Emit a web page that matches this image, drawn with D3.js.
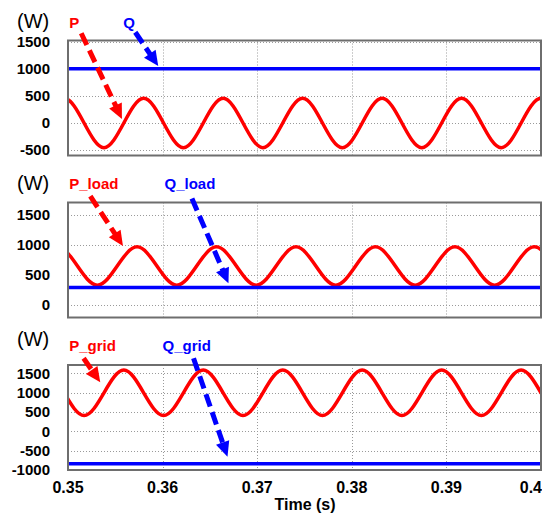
<!DOCTYPE html>
<html>
<head>
<meta charset="utf-8">
<script src="https://cdn.jsdelivr.net/npm/d3@7"></script>
<style>
  body { margin: 0; background: #fff; }
  svg { display: block; font-family: "Liberation Sans", Arial, sans-serif; }
</style>
</head>
<body>
<svg id="chart" width="542" height="515"></svg>
<script>
// time axis
var timeTicks = [0.35, 0.36, 0.37, 0.38, 0.39, 0.40];
var timeLabels = ['0.35', '0.36', '0.37', '0.38', '0.39', '0.4'];

// panel 1 : P and Q
var pTime = [0.3475, 0.3496, 0.3517, 0.3538, 0.3559, 0.3580, 0.3601, 0.3622, 0.3643, 0.3664, 0.3685, 0.3706, 0.3727,
             0.3748, 0.3769, 0.3790, 0.3811, 0.3832, 0.3853, 0.3874, 0.3895, 0.3916, 0.3937, 0.3958, 0.3979, 0.4000, 0.4021];
var pVal  = [0, 455, 0, -455, 0, 455, 0, -455, 0, 455, 0, -455, 0,
             455, 0, -455, 0, 455, 0, -455, 0, 455, 0, -455, 0, 455, 0];
var qTime = [0.35, 0.40];
var qVal  = [1000, 1000];
var ticks1 = [-500, 0, 500, 1000, 1500];

// panel 2 : P_load and Q_load
var pLoadTime = [0.3468, 0.3489, 0.3510, 0.3531, 0.3552, 0.3573, 0.3594, 0.3615, 0.3636, 0.3657, 0.3678, 0.3699, 0.3720,
                 0.3741, 0.3762, 0.3783, 0.3804, 0.3825, 0.3846, 0.3867, 0.3888, 0.3909, 0.3930, 0.3951, 0.3972, 0.3993, 0.4014];
var pLoadVal  = [649, 970, 649, 328, 649, 970, 649, 328, 649, 970, 649, 328, 649,
                 970, 649, 328, 649, 970, 649, 328, 649, 970, 649, 328, 649, 970, 649];
var qLoadTime = [0.35, 0.40];
var qLoadVal  = [290, 290];
var ticks2 = [0, 500, 1000, 1500];

// panel 3 : P_grid and Q_grid
var pGridTime = [0.3454, 0.3475, 0.3496, 0.3517, 0.3538, 0.3559, 0.3580, 0.3601, 0.3622, 0.3643, 0.3664, 0.3685, 0.3706, 0.3727,
                 0.3748, 0.3769, 0.3790, 0.3811, 0.3832, 0.3853, 0.3874, 0.3895, 0.3916, 0.3937, 0.3958, 0.3979, 0.4000, 0.4021, 0.4042];
var pGridVal  = [992, 1580, 992, 405, 992, 1580, 992, 405, 992, 1580, 992, 405, 992, 1580,
                 992, 405, 992, 1580, 992, 405, 992, 1580, 992, 405, 992, 1580, 992, 405, 992];
var qGridTime = [0.35, 0.40];
var qGridVal  = [-840, -840];
var ticks3 = [-1000, -500, 0, 500, 1000, 1500];

var red = '#ff0000', blue = '#0000ff';

var panels = [
    {top: 40.5, bottom: 155.5, domain: [-600, 1520], ticks: ticks1, unitY: 28,
     p: [pTime, pVal], q: [qTime, qVal],
     labels: [{text: 'P', t: 0.35013, y: 28, color: red}, {text: 'Q', t: 0.35585, y: 28, color: blue}],
     arrows: [{from: [0.35140, 1654], to: [0.35570, 74], color: red},
              {from: [0.35711, 1672], to: [0.35954, 1048], color: blue}]},
    {top: 202.5, bottom: 317.5, domain: [-210, 1710], ticks: ticks2, unitY: 190,
     p: [pLoadTime, pLoadVal], q: [qLoadTime, qLoadVal],
     labels: [{text: 'P_load', t: 0.35013, y: 189, color: red}, {text: 'Q_load', t: 0.36020, y: 189, color: blue}],
     arrows: [{from: [0.35236, 1815], to: [0.35581, 983], color: red},
              {from: [0.36310, 1777], to: [0.36696, 362], color: blue}]},
    {top: 365, bottom: 470, domain: [-1000, 1710], ticks: ticks3, unitY: 346,
     p: [pGridTime, pGridVal], q: [qGridTime, qGridVal],
     labels: [{text: 'P_grid', t: 0.35013, y: 351, color: red}, {text: 'Q_grid', t: 0.36000, y: 351, color: blue}],
     arrows: [{from: [0.35165, 1883], to: [0.35341, 1264], color: red},
              {from: [0.36327, 1883], to: [0.36686, -656], color: blue}]}
];

var svg = d3.select('#chart');
var x = d3.scaleLinear().domain([0.35, 0.40]).range([68, 541]);

function drawArrow(g, x1, y1, x2, y2, color) {
    var dx = x2 - x1, dy = y2 - y1;
    var len = Math.sqrt(dx * dx + dy * dy);
    var ux = dx / len, uy = dy / len;
    var headLen = 15, headW = 7;
    var bx = x2 - ux * headLen, by = y2 - uy * headLen;
    g.append('line')
        .attr('x1', x1).attr('y1', y1)
        .attr('x2', bx + ux * 2).attr('y2', by + uy * 2)
        .attr('stroke', color)
        .attr('stroke-width', 5)
        .attr('stroke-dasharray', '13,6');
    g.append('polygon')
        .attr('points', [[x2, y2], [bx - uy * headW, by + ux * headW], [bx + uy * headW, by - ux * headW]].join(' '))
        .attr('fill', color);
}

panels.forEach(function (pn, i) {
    var y = d3.scaleLinear().domain(pn.domain).range([pn.bottom, pn.top]);
    var g = svg.append('g');

    // clip for the curves
    var clipId = 'clip-' + i;
    svg.append('clipPath').attr('id', clipId)
        .append('rect')
        .attr('x', x.range()[0]).attr('y', pn.top)
        .attr('width', x.range()[1] - x.range()[0])
        .attr('height', pn.bottom - pn.top);

    // dotted grid
    g.selectAll('.hgrid').data(pn.ticks).enter().append('line')
        .attr('x1', x.range()[0]).attr('x2', x.range()[1])
        .attr('y1', function (d) { return Math.round(y(d)) + 0.5; })
        .attr('y2', function (d) { return Math.round(y(d)) + 0.5; })
        .attr('stroke', '#9a9a9a')
        .attr('stroke-width', 1)
        .attr('stroke-dasharray', '1,2');
    g.selectAll('.vgrid').data(timeTicks.slice(1, -1)).enter().append('line')
        .attr('x1', function (d) { return Math.round(x(d)) + 0.5; })
        .attr('x2', function (d) { return Math.round(x(d)) + 0.5; })
        .attr('y1', pn.top).attr('y2', pn.bottom)
        .attr('stroke', '#9a9a9a')
        .attr('stroke-width', 1)
        .attr('stroke-dasharray', '1,2');

    // y tick labels
    g.selectAll('.ylab').data(pn.ticks).enter().append('text')
        .attr('x', 50)
        .attr('y', function (d) { return y(d); })
        .attr('dy', '0.36em')
        .attr('text-anchor', 'end')
        .attr('font-size', '15px')
        .attr('font-weight', 'bold')
        .text(function (d) { return d; });

    // unit
    g.append('text')
        .attr('x', 17).attr('y', pn.unitY)
        .attr('font-size', '20px')
        .text('(W)');

    // curves
    var line = d3.line()
        .x(function (d) { return x(d[0]); })
        .y(function (d) { return y(d[1]); });

    var pData = d3.zip(pn.p[0], pn.p[1]);
    var qData = d3.zip(pn.q[0], pn.q[1]);
    var curves = g.append('g').attr('clip-path', 'url(#' + clipId + ')');
    curves.append('path')
        .attr('d', line.curve(d3.curveNatural)(pData))
        .attr('fill', 'none')
        .attr('stroke', red)
        .attr('stroke-width', 3.5);
    curves.append('path')
        .attr('d', line.curve(d3.curveLinear)(qData))
        .attr('fill', 'none')
        .attr('stroke', blue)
        .attr('stroke-width', 3.5);

    // frame
    g.append('rect')
        .attr('x', x.range()[0]).attr('y', pn.top)
        .attr('width', x.range()[1] - x.range()[0])
        .attr('height', pn.bottom - pn.top)
        .attr('fill', 'none')
        .attr('stroke', '#6e6e6e')
        .attr('stroke-width', 2);

    // series names
    pn.labels.forEach(function (l) {
        g.append('text')
            .attr('x', x(l.t)).attr('y', l.y)
            .attr('font-size', '15px')
            .attr('font-weight', 'bold')
            .attr('fill', l.color)
            .text(l.text);
    });

    // dashed arrows
    pn.arrows.forEach(function (a) {
        drawArrow(g, x(a.from[0]), y(a.from[1]), x(a.to[0]), y(a.to[1]), a.color);
    });
});

// time axis labels (bottom panel only)
svg.selectAll('.xlab').data(timeTicks).enter().append('text')
    .attr('x', function (d, i) { return i === timeTicks.length - 1 ? 542 : x(d); })
    .attr('y', 493)
    .attr('text-anchor', function (d, i) { return i === timeTicks.length - 1 ? 'end' : 'middle'; })
    .attr('font-size', '16px')
    .attr('font-weight', 'bold')
    .text(function (d, i) { return timeLabels[i]; });

svg.append('text')
    .attr('x', 305).attr('y', 510)
    .attr('text-anchor', 'middle')
    .attr('font-size', '16px')
    .attr('font-weight', 'bold')
    .text('Time (s)');
</script>
</body>
</html>
